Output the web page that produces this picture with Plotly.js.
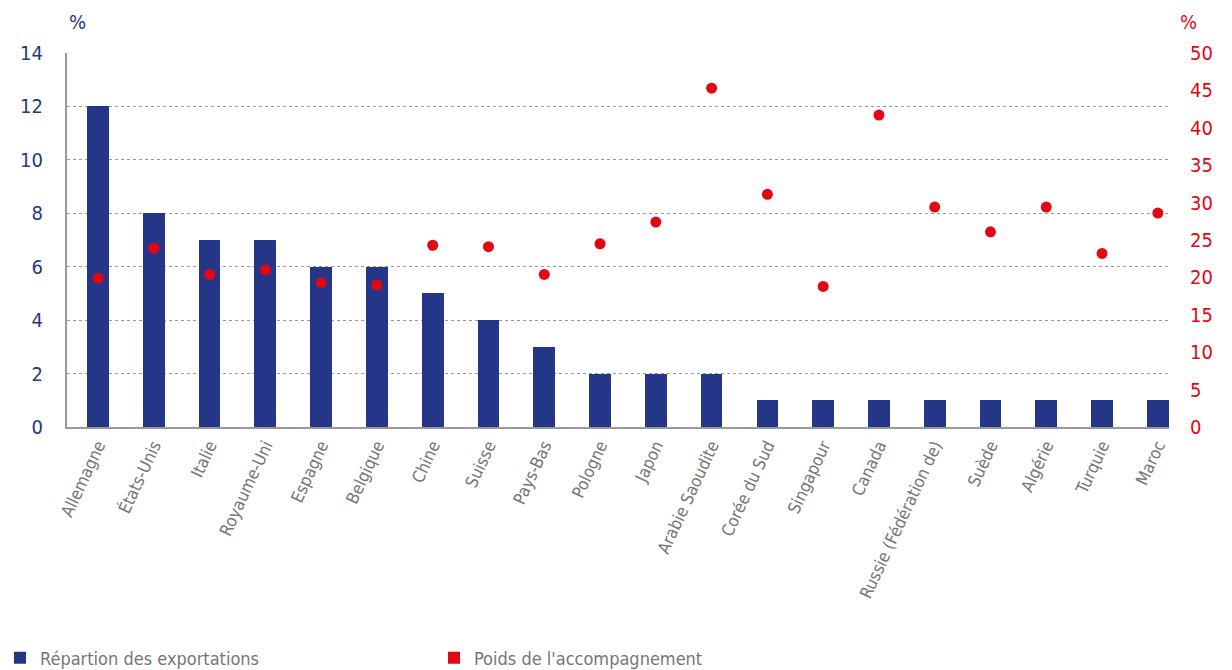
<!DOCTYPE html>
<html>
<head>
<meta charset="utf-8">
<script src="https://cdn.plot.ly/plotly-3.0.1.min.js"></script>
<style>
html,body{margin:0;padding:0;background:#fff;}
#chart{width:1232px;height:670px;}
</style>
</head>
<body>
<div id="chart"></div>
<script>
const categories = ["Allemagne","États-Unis","Italie","Royaume-Uni","Espagne","Belgique","Chine","Suisse","Pays-Bas","Pologne","Japon","Arabie Saoudite","Corée du Sud","Singapour","Canada","Russie (Fédération de)","Suède","Algérie","Turquie","Maroc"];
const exportShare = [12,8,7,7,6,6,5,4,3,2,2,2,1,1,1,1,1,1,1,1];
const supportWeight = [19.9,23.9,20.4,21.0,19.3,19.0,24.3,24.1,20.4,24.5,27.4,45.3,31.1,18.8,41.7,29.4,26.1,29.4,23.2,28.6];
const seriesNames = ["Répartion des exportations","Poids de l'accompagnement"];
const leftTicks = [0,2,4,6,8,10,12,14];
const rightTicks = [0,5,10,15,20,25,30,35,40,45,50];

const BLUE = "#253689", RED = "#E30613", GREY = "#767676";
const FONT = "'Liberation Sans Narrow','DejaVu Sans Condensed','Roboto',sans-serif";

const traces = [
  {type:"bar", x:categories, y:exportShare, name:seriesNames[0], marker:{color:BLUE}, width:0.39, yaxis:"y", hoverinfo:"x+y"},
  {type:"scatter", mode:"markers", x:categories, y:supportWeight, name:seriesNames[1], marker:{color:RED, size:11}, yaxis:"y2", showlegend:false},
  {type:"bar", x:[null], y:[null], name:seriesNames[1], marker:{color:RED}, yaxis:"y2", hoverinfo:"skip"}
];

const layout = {
  width:1232, height:670,
  margin:{l:67, r:63, t:53, b:243},
  paper_bgcolor:"#fff", plot_bgcolor:"#fff",
  font:{family:FONT, color:GREY},
  showlegend:true,
  legend:{orientation:"h", xref:"container", yref:"container", x:0, y:0.018, yanchor:"middle", xanchor:"left",
          font:{family:FONT, size:18, color:GREY}, entrywidth:389, entrywidthmode:"pixels", itemclick:false},
  bargap:0,
  xaxis:{type:"category", range:[-0.556,19.2], tickangle:-65, tickfont:{family:FONT, size:17, color:GREY},
         showline:true, linecolor:"#999", linewidth:2, ticks:"", showgrid:false, zeroline:false, fixedrange:true},
  yaxis:{range:[0,14], tickvals:leftTicks, tickfont:{family:FONT, size:20, color:BLUE}, showline:true, linecolor:"#999", linewidth:2,
         showgrid:true, gridcolor:"#9a9a9a", griddash:"3px,3px", gridwidth:1, zeroline:false, ticks:"", ticklabelstandoff:18, fixedrange:true},
  yaxis2:{overlaying:"y", side:"right", range:[0,50], tickvals:rightTicks, tickfont:{family:FONT, size:20, color:RED},
          showgrid:false, zeroline:false, showline:false, ticks:"", ticklabelstandoff:20, fixedrange:true},
  annotations:[
    {text:"%", xref:"paper", yref:"paper", x:0, y:1, yanchor:"middle", yshift:31, showarrow:false, font:{family:FONT, size:20, color:BLUE}},
    {text:"%", xref:"paper", yref:"paper", x:1.027, y:1, yanchor:"middle", yshift:31, showarrow:false, font:{family:FONT, size:20, color:RED}}
  ]
};

Plotly.newPlot("chart", traces, layout, {displayModeBar:false, staticPlot:true});
</script>
</body>
</html>
